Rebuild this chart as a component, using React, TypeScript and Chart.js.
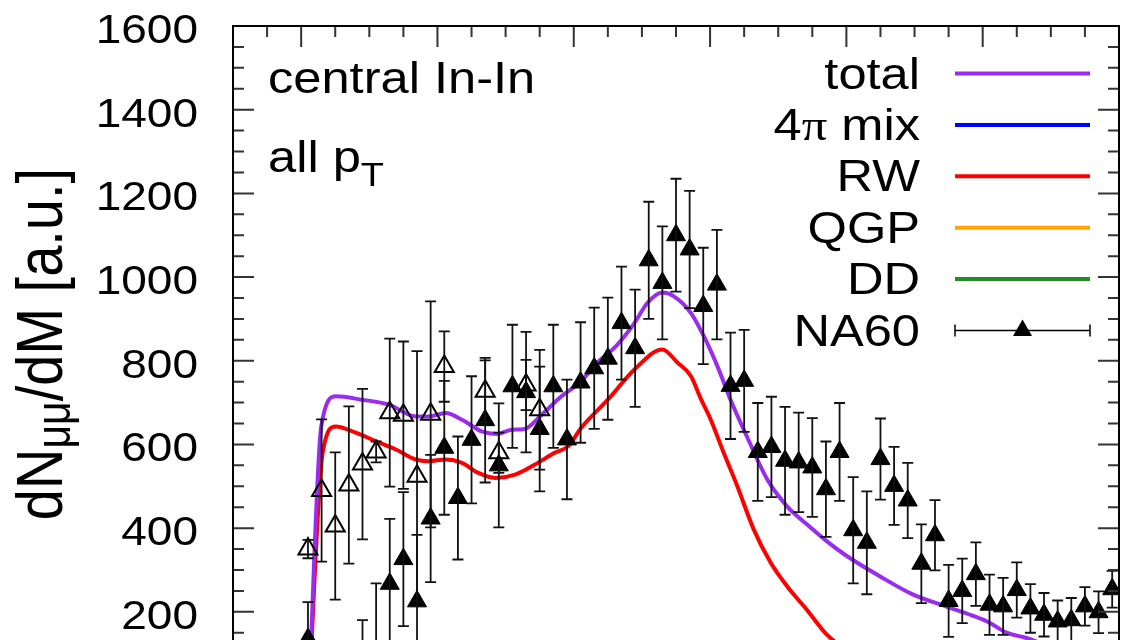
import React, { useEffect, useRef } from "react";
import { Chart, registerables } from "chart.js";

Chart.register(...registerables);

// ---------- data ----------
// NA60 excess (filled triangles): invariant mass [GeV], yield [a.u.], error
const massNA60 = [0.21, 0.29, 0.31, 0.33, 0.35, 0.37, 0.39, 0.41, 0.43, 0.45, 0.47, 0.49, 0.51, 0.53, 0.55, 0.57, 0.59, 0.61, 0.63, 0.65, 0.67, 0.69, 0.71, 0.73, 0.75, 0.77, 0.79, 0.81, 0.83, 0.85, 0.87, 0.89, 0.91, 0.93, 0.95, 0.97, 0.99, 1.01, 1.03, 1.05, 1.07, 1.09, 1.11, 1.13, 1.15, 1.17, 1.19, 1.21, 1.23, 1.25, 1.27, 1.29, 1.31, 1.33, 1.35, 1.37, 1.39];
const yieldNA60 = [135, 40, 95, 267, 326, 225, 423, 592, 472, 611, 658, 550, 739, 725, 637, 739, 612, 748, 782, 805, 890, 830, 1040, 986, 1100, 1066, 931, 982, 740, 752, 582, 594, 561, 557, 545, 493, 582, 395, 365, 565, 501, 466, 315, 383, 226, 250, 290, 217, 213, 252, 208, 193, 177, 180, 213, 199, 254];
const errNA60 = [88, 140, 173, 155, 160, 159, 152, 160, 147, 152, 149, 148, 147, 144, 149, 147, 143, 144, 145, 146, 135, 140, 140, 135, 135, 140, 139, 131, 127, 122, 117, 120, 129, 119, 118, 114, 117, 127, 123, 97, 93, 90, 94, 84, 86, 77, 76, 72, 68, 66, 58, 52, 50, 53, 46, 50, 44];

// second NA60 set (open triangles)
const massOpen = [0.21, 0.23, 0.25, 0.27, 0.29, 0.31, 0.33, 0.35, 0.37, 0.39, 0.41, 0.47, 0.49, 0.53, 0.55];
const yieldOpen = [350, 490, 405, 503, 553, 582, 676, 670, 524, 672, 786, 727, 580, 742, 683];
const errOpen = [22, 170, 176, 188, 180, 25, 177, 176, 299, 270, 84, 74, 48, 60, 143];

// theory curves
const massTotal = [0.2113, 0.2295, 0.251, 0.289, 0.329, 0.368, 0.387, 0.412, 0.436, 0.465, 0.487, 0.509, 0.528, 0.553, 0.582, 0.611, 0.631, 0.662, 0.689, 0.708, 0.73, 0.747, 0.772, 0.791, 0.811, 0.83, 0.854, 0.884, 0.913, 0.942, 0.971, 1.0, 1.049, 1.098, 1.146, 1.185, 1.21, 1.234, 1.263, 1.292, 1.35, 1.4];
const yieldTotal = [0, 643, 715, 707, 695, 667, 667, 675, 659, 631, 625, 635, 637, 671, 715, 751, 790, 835, 890, 938, 963, 954, 914, 858, 786, 707, 619, 516, 452, 409, 369, 334, 285, 241, 213, 191, 174, 151, 138, 122, 100, 88];

const massRW = [0.2113, 0.2315, 0.251, 0.28, 0.3095, 0.339, 0.368, 0.387, 0.412, 0.436, 0.46, 0.485, 0.514, 0.543, 0.572, 0.592, 0.611, 0.65, 0.689, 0.73, 0.752, 0.772, 0.787, 0.801, 0.82, 0.84, 0.864, 0.889, 0.913, 0.942, 0.971, 1.0, 1.05, 1.1, 1.2, 1.3, 1.4];
const yieldRW = [0, 580, 643, 628, 608, 588, 564, 560, 564, 556, 532, 520, 528, 552, 580, 596, 640, 707, 779, 827, 796, 763, 707, 659, 580, 500, 397, 317, 261, 205, 146, 110, 75, 52, 28, 16, 9];

const mass4pi = [0.6, 0.8, 0.9, 1.0, 1.1, 1.2, 1.4];
const yield4pi = [0, 20, 45, 80, 95, 85, 55];

const massQGP = [0.2113, 0.3, 0.5, 0.7, 0.9, 1.1, 1.4];
const yieldQGP = [0, 45, 60, 62, 60, 55, 45];

const massDD = [0.2113, 0.4, 0.7, 1.0, 1.4];
const yieldDD = [0, 20, 30, 30, 25];

const yTickValues = [0, 200, 400, 600, 800, 1000, 1200, 1400, 1600];
const yTickLabels = ["0", "200", "400", "600", "800", "1000", "1200", "1400", "1600"];
const xTickValues = [0.2, 0.4, 0.6, 0.8, 1.0, 1.2, 1.4];
const xTickLabels = ["0.2", "0.4", "0.6", "0.8", "1", "1.2", "1.4"];

const legendOrder = ["total", "4π mix", "RW", "QGP", "DD", "NA60"];

// ---------- styling ----------
const SX = 1.15;
const SANS = '"Liberation Sans", Arial, Helvetica, sans-serif';
const SERIF = '"Liberation Serif", "DejaVu Serif", serif';
const COLORS: Record<string, string> = {
  total: "#9a2cf0",
  "4π mix": "#0000ff",
  RW: "#ff0000",
  QGP: "#ffa500",
  DD: "#228b22",
};
const TRI_R = 11;

type Part = { t: string; font: string; dy?: number };

function drawText(ctx: CanvasRenderingContext2D, parts: Part[], x: number, y: number, align: "left" | "right" | "center", rot = 0) {
  ctx.save();
  ctx.translate(x, y);
  ctx.scale(SX, 1);
  if (rot) ctx.rotate(rot);
  ctx.textBaseline = "alphabetic";
  ctx.textAlign = "left";
  let w = 0;
  const ws: number[] = [];
  for (const p of parts) {
    ctx.font = p.font;
    const m = ctx.measureText(p.t).width;
    ws.push(m);
    w += m;
  }
  let cx = align === "left" ? 0 : align === "right" ? -w : -w / 2;
  parts.forEach((p, i) => {
    ctx.font = p.font;
    ctx.fillText(p.t, cx, p.dy || 0);
    cx += ws[i];
  });
  ctx.restore();
}

function pts(xs: number[], ys: number[]) {
  return xs.map((x, i) => ({ x, y: ys[i] }));
}

function triangle(ctx: CanvasRenderingContext2D, x: number, y: number, r: number) {
  const s = Math.sin((2 * Math.PI) / 3) * r;
  ctx.beginPath();
  ctx.moveTo(x, y - r);
  ctx.lineTo(x + s, y + r / 2);
  ctx.lineTo(x - s, y + r / 2);
  ctx.closePath();
}

const errorBarPlugin = {
  id: "errbars",
  afterDatasetsDraw(chart: any) {
    const { ctx, chartArea: a } = chart;
    const xs = chart.scales.x;
    const ys = chart.scales.y;
    ctx.save();
    ctx.beginPath();
    ctx.rect(a.left, a.top, a.right - a.left, a.bottom - a.top);
    ctx.clip();
    ctx.strokeStyle = "#111";
    ctx.lineWidth = 1.8;
    const draw = (m: number[], v: number[], e: number[]) => {
      m.forEach((mm, i) => {
        const px = xs.getPixelForValue(mm);
        const y1 = ys.getPixelForValue(v[i] + e[i]);
        const y2 = ys.getPixelForValue(v[i] - e[i]);
        ctx.beginPath();
        ctx.moveTo(px, y1);
        ctx.lineTo(px, y2);
        ctx.moveTo(px - 5.5, y1);
        ctx.lineTo(px + 5.5, y1);
        ctx.moveTo(px - 5.5, y2);
        ctx.lineTo(px + 5.5, y2);
        ctx.stroke();
      });
    };
    draw(massNA60, yieldNA60, errNA60);
    draw(massOpen, yieldOpen, errOpen);
    ctx.restore();
  },
};

const framePlugin = {
  id: "frame",
  afterDraw(chart: any) {
    const { ctx, chartArea: a } = chart;
    const xs = chart.scales.x;
    const ys = chart.scales.y;
    ctx.save();
    // inward ticks
    ctx.strokeStyle = "#333";
    ctx.lineWidth = 2;
    ctx.beginPath();
    for (let k = 0; k <= 32; k++) {
      const v = k * 50;
      const py = ys.getPixelForValue(v);
      const len = k % 4 === 0 ? 21 : 11;
      ctx.moveTo(a.left, py);
      ctx.lineTo(a.left + len, py);
      ctx.moveTo(a.right, py);
      ctx.lineTo(a.right - len, py);
    }
    for (let k = 2; k <= 28; k++) {
      const px = xs.getPixelForValue(k * 0.05);
      const len = k % 4 === 0 ? 21 : 11;
      ctx.moveTo(px, a.top);
      ctx.lineTo(px, a.top + len);
      ctx.moveTo(px, a.bottom);
      ctx.lineTo(px, a.bottom - len);
    }
    ctx.stroke();
    ctx.strokeStyle = "#000";
    ctx.lineWidth = 2;
    ctx.strokeRect(a.left, a.top, a.right - a.left, a.bottom - a.top);

    ctx.fillStyle = "#000";
    // y tick labels
    yTickValues.forEach((v, i) => {
      const py = ys.getPixelForValue(v);
      drawText(ctx, [{ t: yTickLabels[i], font: `40px ${SANS}` }], 198, py + 17, "right");
    });
    // x tick labels (below the frame)
    xTickValues.forEach((v, i) => {
      const px = xs.getPixelForValue(v);
      drawText(ctx, [{ t: xTickLabels[i], font: `40px ${SANS}` }], px, a.bottom + 48, "center");
    });
    drawText(ctx, [{ t: "M [GeV]", font: `44px ${SANS}` }], (a.left + a.right) / 2, a.bottom + 80, "center");

    // y axis title (rotated)
    drawText(
      ctx,
      [
        { t: "dN", font: `56px ${SANS}` },
        { t: "μμ", font: `41px ${SANS}`, dy: 7 },
        { t: "/dM [a.u.]", font: `56px ${SANS}` },
      ],
      62,
      344,
      "center",
      -Math.PI / 2
    );

    // annotations
    drawText(ctx, [{ t: "central In-In", font: `44px ${SANS}` }], 268, 93, "left");
    drawText(
      ctx,
      [
        { t: "all p", font: `44px ${SANS}` },
        { t: "T", font: `33px ${SANS}`, dy: 14 },
      ],
      268,
      172,
      "left"
    );

    // legend
    const lx0 = 955;
    const lx1 = 1090;
    legendOrder.forEach((name, i) => {
      const ly = 73.5 + 51.4 * i;
      const parts: Part[] =
        name === "4π mix"
          ? [
              { t: "4", font: `44px ${SANS}` },
              { t: "π", font: `44px ${SERIF}` },
              { t: " mix", font: `44px ${SANS}` },
            ]
          : [{ t: name, font: `44px ${SANS}` }];
      ctx.fillStyle = "#000";
      drawText(ctx, parts, 920, ly + 15, "right");
      if (name === "NA60") {
        ctx.strokeStyle = "#000";
        ctx.lineWidth = 1.5;
        ctx.beginPath();
        ctx.moveTo(lx0, ly);
        ctx.lineTo(lx1, ly);
        ctx.moveTo(lx0, ly - 6);
        ctx.lineTo(lx0, ly + 6);
        ctx.moveTo(lx1, ly - 6);
        ctx.lineTo(lx1, ly + 6);
        ctx.stroke();
        triangle(ctx, (lx0 + lx1) / 2, ly, TRI_R);
        ctx.fillStyle = "#000";
        ctx.fill();
      } else {
        ctx.strokeStyle = COLORS[name];
        ctx.lineWidth = 4;
        ctx.beginPath();
        ctx.moveTo(lx0, ly);
        ctx.lineTo(lx1, ly);
        ctx.stroke();
      }
    });
    ctx.restore();
  },
};

export default function App() {
  const ref = useRef<HTMLCanvasElement>(null);
  useEffect(() => {
    const curve = (label: string, xs: number[], ys: number[], order: number) => ({
      label,
      data: pts(xs, ys),
      showLine: true,
      borderColor: COLORS[label],
      backgroundColor: COLORS[label],
      borderWidth: 4,
      pointRadius: 0,
      cubicInterpolationMode: "monotone",
      order,
    });
    const chart = new Chart(ref.current as HTMLCanvasElement, {
      type: "scatter",
      data: {
        datasets: [
          {
            label: "NA60",
            data: pts(massNA60, yieldNA60),
            pointStyle: "triangle",
            pointRadius: TRI_R,
            backgroundColor: "#000",
            borderColor: "#000",
            borderWidth: 1,
            showLine: false,
            order: 0,
          },
          {
            label: "NA60 (open)",
            data: pts(massOpen, yieldOpen),
            pointStyle: "triangle",
            pointRadius: TRI_R,
            backgroundColor: "rgba(0,0,0,0)",
            borderColor: "#000",
            borderWidth: 2,
            showLine: false,
            order: 0,
          },
          curve("DD", massDD, yieldDD, 5),
          curve("QGP", massQGP, yieldQGP, 4),
          curve("4π mix", mass4pi, yield4pi, 3),
          curve("RW", massRW, yieldRW, 2),
          curve("total", massTotal, yieldTotal, 1),
        ] as any,
      },
      options: {
        animation: false,
        responsive: false,
        devicePixelRatio: 1,
        events: [],
        layout: { padding: { left: 0, top: 26, right: 10, bottom: 0 } },
        plugins: { legend: { display: false }, tooltip: { enabled: false } },
        scales: {
          x: {
            type: "linear",
            min: 0.1,
            max: 1.4,
            grid: { display: false },
            border: { display: false },
            ticks: { display: false },
            afterFit: (s: any) => {
              s.height = 84.5;
            },
          },
          y: {
            type: "linear",
            min: 0,
            max: 1600,
            grid: { display: false },
            border: { display: false },
            ticks: { display: false },
            afterFit: (s: any) => {
              s.width = 233;
            },
          },
        },
      } as any,
      plugins: [errorBarPlugin, framePlugin],
    });
    return () => chart.destroy();
  }, []);
  return (
    <div style={{ position: "absolute", left: 0, top: 0, width: 1132, height: 640, overflow: "hidden", background: "#fff" }}>
      <canvas ref={ref} width={1132} height={780} style={{ display: "block", width: 1132, height: 780 }} />
    </div>
  );
}
